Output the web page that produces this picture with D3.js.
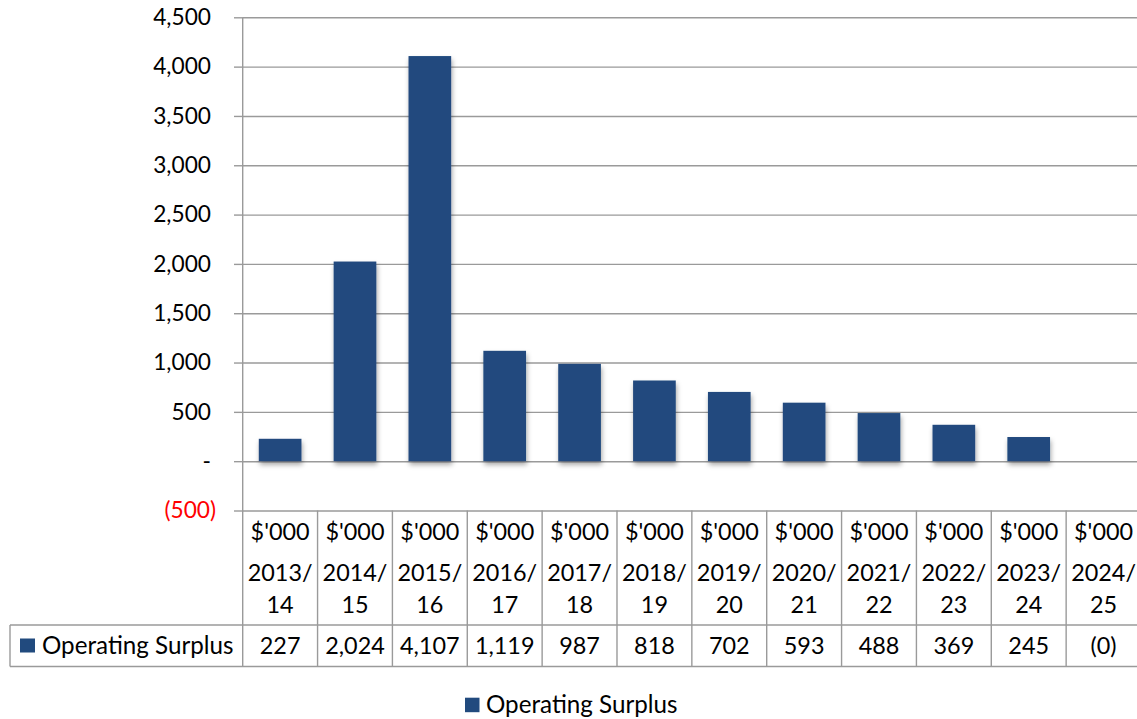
<!DOCTYPE html>
<html>
<head>
<meta charset="utf-8">
<script src="https://cdn.jsdelivr.net/npm/d3@7"></script>
<style>
  html, body { margin: 0; padding: 0; background: #fff; }
  svg { display: block; font-family: Lato, "Open Sans", sans-serif; }
</style>
</head>
<body>
<svg id="chart" width="1137" height="719"></svg>
<script>
// Operating surplus per financial year ($'000)
const years = ["2013/14", "2014/15", "2015/16", "2016/17", "2017/18", "2018/19",
               "2019/20", "2020/21", "2021/22", "2022/23", "2023/24", "2024/25"];
const unitLabel = "$'000";
const seriesName = "Operating Surplus";
const surplus = [227, 2024, 4107, 1119, 987, 818, 702, 593, 488, 369, 245, 0];
const yTicks = [-500, 0, 500, 1000, 1500, 2000, 2500, 3000, 3500, 4000, 4500];

const barColor = "#214a7e";
const gridColor = "#9a9a9a";
const textColor = "#000";
const tickFont = 22.7;
const cellFont = 23.4;
const nameFont = 24.2;

const svg = d3.select("#chart");

const plotLeft = 242.7, plotRight = 1141;
const plotTop = 17.3, plotBottom = 510.5;
const headerBottom = 625, rowBottom = 666.5;
const keyLeft = 10;

const x = d3.scaleBand()
  .domain(years)
  .range([plotLeft, plotRight])
  .paddingInner(0.43)
  .paddingOuter(0.215);

const y = d3.scaleLinear()
  .domain([-500, 4500])
  .range([plotBottom, plotTop]);

// Excel-style accounting number format
const fmtNum = d3.format(",.0f");
const acct = v => v === 0 ? "-" : (v < 0 ? "(" + fmtNum(-v) + ")" : fmtNum(v));
const acctCell = v => v < 0 ? "(" + fmtNum(-v) + ")" : (v === 0 ? "(0)" : fmtNum(v));

// shadow under the bars
const defs = svg.append("defs");
const f = defs.append("filter").attr("id", "shadow")
  .attr("x", "-20%").attr("y", "-20%").attr("width", "140%").attr("height", "160%");
f.append("feDropShadow").attr("dx", 1).attr("dy", 3.5).attr("stdDeviation", 2.5)
  .attr("flood-color", "#000").attr("flood-opacity", 0.35);

// horizontal gridlines
const grid = svg.append("g")
  .attr("transform", `translate(${plotLeft},0)`)
  .call(d3.axisLeft(y).tickValues(yTicks).tickSize(-(plotRight - plotLeft)).tickFormat(""));
grid.select(".domain").remove();
grid.selectAll("line").attr("stroke", gridColor).attr("stroke-width", 1.4);

// value axis with short outside ticks
const yAxis = svg.append("g")
  .attr("transform", `translate(${plotLeft},0)`)
  .call(d3.axisLeft(y).tickValues(yTicks).tickSize(8.7).tickPadding(23).tickFormat(acct));
yAxis.select(".domain").remove();
yAxis.selectAll("line").attr("stroke", gridColor).attr("stroke-width", 1.4);
yAxis.selectAll("text")
  .attr("font-size", tickFont)
  .attr("font-family", "Lato, 'Open Sans', sans-serif")
  .attr("fill", d => d < 0 ? "#ff0000" : textColor)
  .attr("dx", d => d < 0 ? 5 : 0);

// bars
svg.append("g").selectAll("rect")
  .data(surplus.map((v, i) => ({ year: years[i], value: v })))
  .join("rect")
  .attr("x", d => x(d.year))
  .attr("width", x.bandwidth())
  .attr("y", d => y(Math.max(0, d.value)))
  .attr("height", d => Math.abs(y(d.value) - y(0)))
  .attr("fill", barColor)
  .attr("filter", "url(#shadow)");

// data table under the plot
const tbl = svg.append("g").attr("stroke", gridColor).attr("stroke-width", 1.4);
const step = x.step();
const colEdges = years.map(yr => x(yr) - (step - x.bandwidth()) / 2);
colEdges.push(plotRight);
// vertical axis line continues through the table
tbl.append("line").attr("x1", plotLeft).attr("x2", plotLeft).attr("y1", plotTop).attr("y2", rowBottom);
tbl.selectAll("line.col").data(colEdges.slice(1)).join("line").attr("class", "col")
  .attr("x1", d => d).attr("x2", d => d).attr("y1", plotBottom).attr("y2", rowBottom);
tbl.append("line").attr("x1", keyLeft).attr("x2", plotRight).attr("y1", headerBottom).attr("y2", headerBottom);
tbl.append("line").attr("x1", keyLeft).attr("x2", plotRight).attr("y1", rowBottom).attr("y2", rowBottom);
tbl.append("line").attr("x1", keyLeft).attr("x2", keyLeft).attr("y1", headerBottom).attr("y2", rowBottom);

const cx = yr => x(yr) + x.bandwidth() / 2;
const head = svg.append("g").attr("font-size", cellFont).attr("fill", textColor).attr("text-anchor", "middle");
years.forEach(yr => {
  const [a, b] = yr.split("/");
  head.append("text").attr("x", cx(yr)).attr("y", 531.7).attr("dy", "0.35em").text(unitLabel);
  head.append("text").attr("x", cx(yr)).attr("y", 572.7).attr("dy", "0.35em").text(a + "/");
  head.append("text").attr("x", cx(yr)).attr("y", 605).attr("dy", "0.35em").text(b);
});

const row = svg.append("g").attr("font-size", cellFont).attr("fill", textColor).attr("text-anchor", "middle");
row.selectAll("text").data(surplus).join("text")
  .attr("x", (d, i) => cx(years[i]))
  .attr("y", 645.7).attr("dy", "0.35em")
  .text(acctCell);

// legend key inside the table row
svg.append("rect").attr("x", 20).attr("y", 638.5).attr("width", 15).attr("height", 14).attr("fill", barColor);
svg.append("text").attr("x", 42).attr("y", 645.7).attr("dy", "0.35em")
  .attr("font-size", nameFont).attr("fill", textColor).text(seriesName);

// legend at the bottom
svg.append("rect").attr("x", 465).attr("y", 697.7).attr("width", 14.5).attr("height", 14.5).attr("fill", barColor);
svg.append("text").attr("x", 486).attr("y", 704.5).attr("dy", "0.35em")
  .attr("font-size", nameFont).attr("fill", textColor).text(seriesName);
</script>
</body>
</html>
